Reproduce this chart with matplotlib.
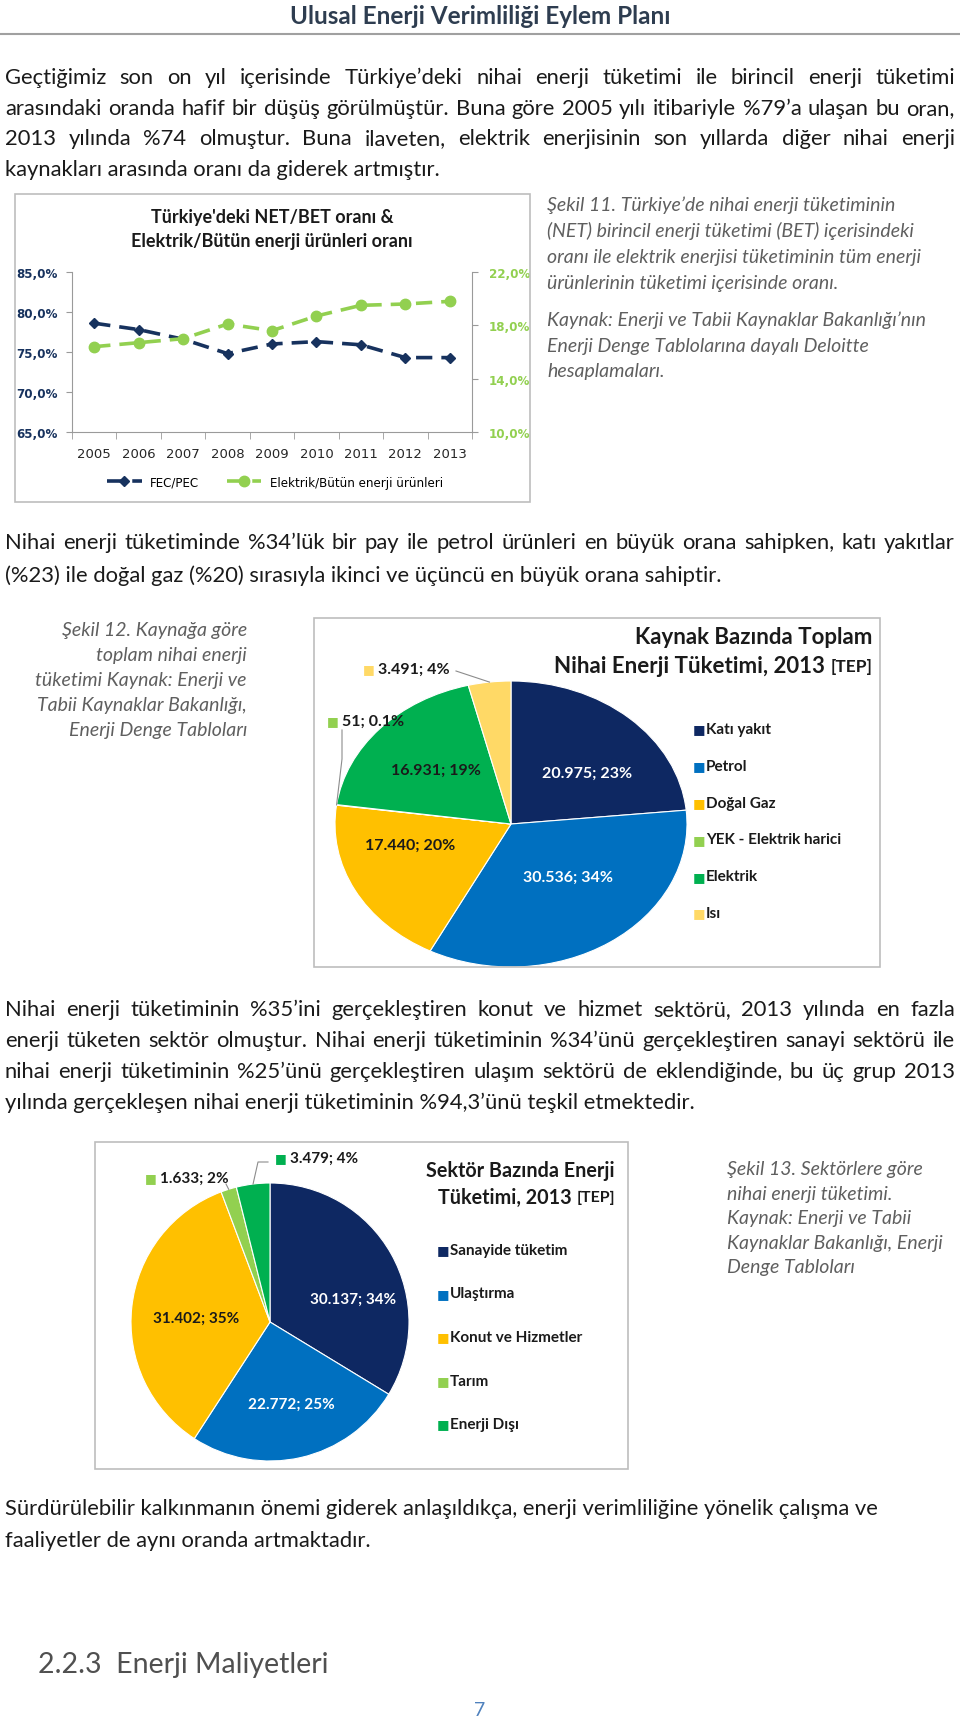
import matplotlib
matplotlib.use("Agg")
import matplotlib.pyplot as plt
from matplotlib.lines import Line2D
from matplotlib.patches import Rectangle
from matplotlib.ticker import FuncFormatter
import numpy as np

W, H = 960, 1724

# ---- data ----
years = ["2005", "2006", "2007", "2008", "2009", "2010", "2011", "2012", "2013"]
fec_pec = [78.6, 77.8, 76.6, 74.8, 76.0, 76.3, 75.9, 74.3, 74.3]
elektrik_share = [16.4, 16.7, 17.0, 18.1, 17.6, 18.7, 19.5, 19.6, 19.8]

source_labels = ["Katı yakıt", "Petrol", "Doğal Gaz", "YEK - Elektrik harici", "Elektrik", "Isı"]
source_values = [20975, 30536, 17440, 51, 16931, 3491]
source_pct = ["23%", "34%", "20%", "0.1%", "19%", "4%"]

sector_labels = ["Sanayide tüketim", "Ulaştırma", "Konut ve Hizmetler", "Tarım", "Enerji Dışı"]
sector_values = [30137, 22772, 31402, 1633, 3479]
sector_pct = ["34%", "25%", "35%", "2%", "4%"]

NAVY = "#0E2862"
BLUE = "#0070C0"
GOLD = "#FFC000"
LGREEN = "#92D050"
GREEN = "#00B050"
LYELLOW = "#FFD966"
source_colors = [NAVY, BLUE, GOLD, LGREEN, GREEN, LYELLOW]
sector_colors = [NAVY, BLUE, GOLD, LGREEN, GREEN]

BODY = dict(family="Lato", size=15.8, color="#1a1a1a")
CAP = dict(family="Lato", size=14, color="#5f5f5f", style="italic")

fig = plt.figure(figsize=(W / 100, H / 100), dpi=100)
renderer = fig.canvas.get_renderer()


def fx(x):
    return x / W


def fy(y):
    return 1 - y / H


def put(x, y, s, **kw):
    kw.setdefault("va", "center")
    return fig.text(fx(x), fy(y), s, **kw)


def put_line(x, y, s, **kw):
    # y is the visual middle of the line; draw on the baseline so words line up
    off = 0.33 * kw.get("size", 12) * 100 / 72
    return put(x, y + off, s, va="baseline", **kw)


def text_width(s, **kw):
    t = fig.text(0, 0, s, **kw)
    w = t.get_window_extent(renderer).width
    t.remove()
    return w


def axes_px(x0, y0, x1, y1):
    return fig.add_axes([fx(x0), fy(y1), (x1 - x0) / W, (y1 - y0) / H])


def box(x0, y0, x1, y1):
    fig.add_artist(Rectangle((fx(x0), fy(y1)), (x1 - x0) / W, (y1 - y0) / H,
                             transform=fig.transFigure, fill=False,
                             edgecolor="#bdbdbd", lw=1.2))


def paragraph(lines, y0, step, x0=5, x1=955, justify=True, **kw):
    for i, line in enumerate(lines):
        y = y0 + i * step
        if not justify or i == len(lines) - 1:
            put_line(x0, y, line, **kw)
            continue
        words = line.split()
        opts = dict(kw)
        # shrink a little if the line does not fit with normal spaces
        while text_width(line, **opts) > x1 - x0:
            opts["size"] -= 0.2
        widths = [text_width(w, **opts) for w in words]
        gap = (x1 - x0 - sum(widths)) / (len(words) - 1)
        x = x0
        for w, wd in zip(words, widths):
            put_line(x, y, w, **opts)
            x += wd + gap


def fmt_tep(v):
    return f"{v:,}".replace(",", ".")


# ---- page header ----
put(480, 16, "Ulusal Enerji Verimliliği Eylem Planı", ha="center", family="Lato",
    size=17.5, weight="bold", color="#2E3D50")
fig.add_artist(Line2D([fx(0), fx(960)], [fy(35), fy(35)], color="#a0a0a0", lw=1.5))

paragraph([
    "Geçtiğimiz son on yıl içerisinde Türkiye’deki nihai enerji tüketimi ile birincil enerji tüketimi",
    "arasındaki oranda hafif bir düşüş görülmüştür. Buna göre 2005 yılı itibariyle %79’a ulaşan bu oran,",
    "2013 yılında %74 olmuştur. Buna ilaveten, elektrik enerjisinin son yıllarda diğer nihai enerji",
    "kaynakları arasında oranı da giderek artmıştır.",
], 77, 30.5, **BODY)

# ---- chart 1: line chart ----
box(15, 195, 530, 503)
put(272, 217, "Türkiye'deki NET/BET oranı &", ha="center", family="Lato", size=13,
    weight="bold", color="#1a1a1a")
put(272, 241, "Elektrik/Bütün enerji ürünleri oranı", ha="center", family="Lato", size=13,
    weight="bold", color="#1a1a1a")

ax1 = axes_px(72, 273, 472, 433)
x = np.arange(len(years))
l1, = ax1.plot(x, fec_pec, color="#17325E", lw=2.6, dashes=(4.5, 2.5), marker="D", ms=5.5)
ax1.set_xlim(-0.5, len(years) - 0.5)
ax1.set_ylim(65, 85)
ax1.set_yticks([65, 70, 75, 80, 85])
ax1.yaxis.set_major_formatter(FuncFormatter(lambda v, p: f"{v:.1f}%".replace(".", ",")))
ax1.set_xticks(x)
ax1.set_xticklabels(years)
ax1.set_xticks(np.arange(len(years) + 1) - 0.5, minor=True)
ax1.tick_params(axis="x", which="major", length=0, pad=11, labelsize=9.5, labelcolor="#262626")
ax1.tick_params(axis="x", which="minor", length=5, color="#9a9a9a")
ax1.tick_params(axis="y", length=4, color="#9a9a9a", labelsize=8.6, labelcolor="#17325E", pad=6)
for lab in ax1.get_yticklabels():
    lab.set_fontweight("bold")
for s in ["top", "right"]:
    ax1.spines[s].set_visible(False)
for s in ["left", "bottom"]:
    ax1.spines[s].set_color("#9a9a9a")

ax2 = ax1.twinx()
l2, = ax2.plot(x, elektrik_share, color=LGREEN, lw=2.6, dashes=(4.5, 2.5), marker="o", ms=7.5)
ax2.set_ylim(10, 22)
ax2.set_yticks([10, 14, 18, 22])
ax2.yaxis.set_major_formatter(FuncFormatter(lambda v, p: f"{v:.1f}%".replace(".", ",")))
ax2.tick_params(axis="y", length=4, color="#9a9a9a", labelsize=8.6, labelcolor=LGREEN, pad=8)
for lab in ax2.get_yticklabels():
    lab.set_fontweight("bold")
for s in ["top", "left", "bottom"]:
    ax2.spines[s].set_visible(False)
ax2.spines["right"].set_color("#9a9a9a")

fig.legend([l1, l2], ["FEC/PEC", "Elektrik/Bütün enerji ürünleri"], loc="center",
           bbox_to_anchor=(fx(275), fy(483)), ncol=2, frameon=False, fontsize=8.6,
           handlelength=2.9, handletextpad=0.7, columnspacing=2.3)

paragraph([
    "Şekil 11. Türkiye’de nihai enerji tüketiminin",
    "(NET) birincil enerji tüketimi (BET) içerisindeki",
    "oranı ile elektrik enerjisi tüketiminin tüm enerji",
    "ürünlerinin tüketimi içerisinde oranı.",
], 205, 25.8, x0=547, justify=False, **CAP)
paragraph([
    "Kaynak: Enerji ve Tabii Kaynaklar Bakanlığı’nın",
    "Enerji Denge Tablolarına dayalı Deloitte",
    "hesaplamaları.",
], 320, 25.5, x0=547, justify=False, **CAP)

paragraph([
    "Nihai enerji tüketiminde %34’lük bir pay ile petrol ürünleri en büyük orana sahipken, katı yakıtlar",
    "(%23) ile doğal gaz (%20) sırasıyla ikinci ve üçüncü en büyük orana sahiptir.",
], 542, 33, **BODY)

# ---- chart 2: pie by source ----
for i, line in enumerate(["Şekil 12. Kaynağa göre", "toplam nihai enerji",
                          "tüketimi Kaynak: Enerji ve", "Tabii Kaynaklar Bakanlığı,",
                          "Enerji Denge Tabloları"]):
    put_line(247, 630 + i * 24.8, line, ha="right", **CAP)

box(314, 619, 880, 968)
put(872, 638, "Kaynak Bazında Toplam", ha="right", family="Lato", size=16, weight="bold",
    color="#1a1a1a")
t = put(872, 667, "[TEP]", ha="right", family="Lato", size=12.5, weight="bold", color="#1a1a1a")
tw = t.get_window_extent(renderer).width
put(872 - tw - 5, 667, "Nihai Enerji Tüketimi, 2013", ha="right", family="Lato", size=16,
    weight="bold", color="#1a1a1a")


def draw_pie(ax, values, colors, pct, inside, outside, size):
    wedges, _ = ax.pie(values, colors=colors, startangle=90, counterclock=False,
                       wedgeprops=dict(linewidth=0.8, edgecolor="white"))
    ax.set_xlim(-1, 1)
    ax.set_ylim(-1, 1)
    ax.set_aspect("auto")
    for i, (r, dt, col) in inside.items():
        w = wedges[i]
        a = np.deg2rad((w.theta1 + w.theta2) / 2 + dt)
        ax.text(r * np.cos(a), r * np.sin(a), f"{fmt_tep(values[i])}; {pct[i]}",
                ha="center", va="center", family="Lato", weight="bold", size=size, color=col)
    for i, (lx, ly, bend) in outside.items():
        w = wedges[i]
        a = np.deg2rad((w.theta1 + w.theta2) / 2)
        ex, ey = ax.transData.transform((np.cos(a), np.sin(a)))
        ey = H - ey
        put(lx, ly, "■", ha="left", size=9, color=colors[i], family="DejaVu Sans")
        put(lx + 15, ly, f"{fmt_tep(values[i])}; {pct[i]}", ha="left", family="Lato",
            weight="bold", size=size, color="#1a1a1a")
        xs, ys = zip(*bend, (ex, ey))
        fig.add_artist(Line2D([fx(v) for v in xs], [fy(v) for v in ys], color="#8c8c8c", lw=0.8))
    return wedges


ax3 = axes_px(335, 682, 687, 968)
draw_pie(ax3, source_values, source_colors, source_pct,
         inside={0: (0.56, -8, "white"), 1: (0.49, 7, "white"),
                 2: (0.59, -13, "#1a1a1a"), 4: (0.57, 0, "#1a1a1a")},
         outside={5: (363, 670, [(456, 672)]), 3: (327, 722, [(342, 731), (342, 760)])},
         size=11.5)

for i, (lab, col) in enumerate(zip(source_labels, source_colors)):
    y = 730 + i * 36.8
    put(693, y, "■", ha="left", size=9.5, color=col, family="DejaVu Sans")
    put(706, y, lab, ha="left", family="Lato", weight="bold", size=11, color="#1a1a1a")

paragraph([
    "Nihai enerji tüketiminin %35’ini gerçekleştiren konut ve hizmet sektörü, 2013 yılında en fazla",
    "enerji tüketen sektör olmuştur. Nihai enerji tüketiminin %34’ünü gerçekleştiren sanayi sektörü ile",
    "nihai enerji tüketiminin %25’ünü gerçekleştiren ulaşım sektörü de eklendiğinde, bu üç grup 2013",
    "yılında gerçekleşen nihai enerji tüketiminin %94,3’ünü teşkil etmektedir.",
], 1009, 31, **BODY)

# ---- chart 3: pie by sector ----
box(95, 1143, 628, 1470)
put(615, 1171, "Sektör Bazında Enerji", ha="right", family="Lato", size=14.2, weight="bold",
    color="#1a1a1a")
t = put(615, 1198, "[TEP]", ha="right", family="Lato", size=11.5, weight="bold", color="#1a1a1a")
tw = t.get_window_extent(renderer).width
put(615 - tw - 5, 1198, "Tüketimi, 2013", ha="right", family="Lato", size=14.2,
    weight="bold", color="#1a1a1a")

ax4 = axes_px(131, 1184, 409, 1462)
draw_pie(ax4, sector_values, sector_colors, sector_pct,
         inside={0: (0.62, -14, "white"), 1: (0.61, 2, "white"), 2: (0.53, 3, "#1a1a1a")},
         outside={4: (275, 1159, [(268, 1163), (258, 1163)]), 3: (145, 1179, [(226, 1185)])},
         size=11)

for i, (lab, col) in enumerate(zip(sector_labels, sector_colors)):
    y = 1251 + i * 43.5
    put(437, y, "■", ha="left", size=9.5, color=col, family="DejaVu Sans")
    put(450, y, lab, ha="left", family="Lato", weight="bold", size=11, color="#1a1a1a")

paragraph(["Şekil 13. Sektörlere göre", "nihai enerji tüketimi.", "Kaynak: Enerji ve Tabii",
           "Kaynaklar Bakanlığı, Enerji", "Denge Tabloları"],
          1169, 24.5, x0=727, justify=False, **CAP)

paragraph([
    "Sürdürülebilir kalkınmanın önemi giderek anlaşıldıkça, enerji verimliliğine yönelik çalışma ve",
    "faaliyetler de aynı oranda artmaktadır.",
], 1508, 32, justify=False, **BODY)

put(38, 1665, "2.2.3  Enerji Maliyetleri", ha="left", family="Lato", size=20.5,
    color="#505050")
put(480, 1711, "7", ha="center", family="Lato", size=14, color="#4F81BD")

fig.savefig("out.png", dpi=100)
plt.close(fig)
